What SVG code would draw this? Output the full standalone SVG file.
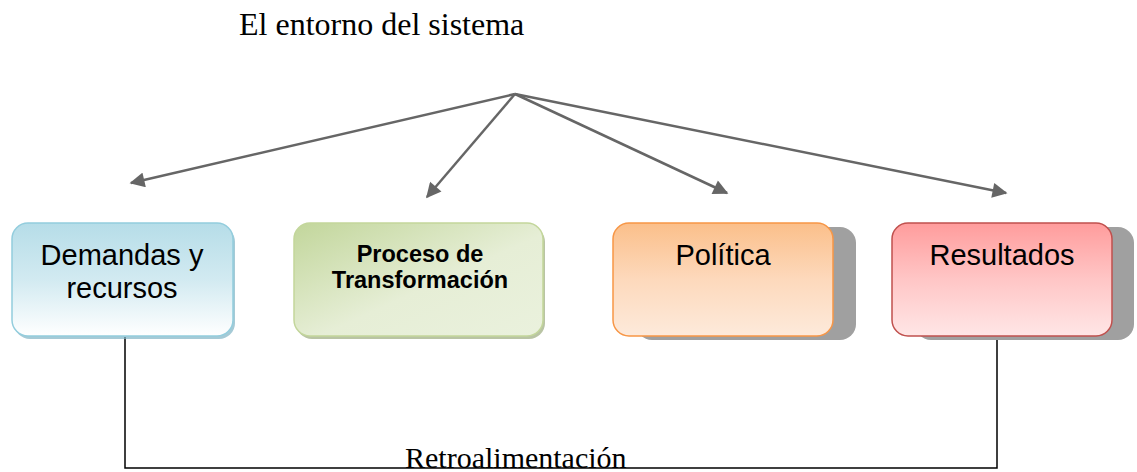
<svg xmlns="http://www.w3.org/2000/svg" width="1137" height="472" viewBox="0 0 1137 472">
<style>
.serif{font-family:"Liberation Serif","Times New Roman",serif;fill:#000}
.sans{font-family:"Liberation Sans",Arial,sans-serif;fill:#000;text-anchor:middle;font-size:29px}
.arr{stroke:#666;stroke-width:2.5;fill:none;marker-end:url(#ah)}
.fb{stroke:#000;stroke-width:1.5;fill:none}
</style>
<defs>
<marker id="ah" viewBox="0 0 10 10" refX="9" refY="5" markerWidth="6.5" markerHeight="6" markerUnits="strokeWidth" orient="auto">
<path d="M0,0 L10,5 L0,10 z" fill="#666"/>
</marker>
<linearGradient id="gBlue" x1="0" y1="0" x2="0" y2="1">
<stop offset="0" stop-color="#b6dde8"/><stop offset="0.5" stop-color="#d2eaf1"/><stop offset="1" stop-color="#ffffff"/>
</linearGradient>
<linearGradient id="gGreen" x1="0" y1="0" x2="1" y2="1">
<stop offset="0" stop-color="#c2d69b"/><stop offset="0.55" stop-color="#e6eed6"/><stop offset="1" stop-color="#eaf1dd"/>
</linearGradient>
<linearGradient id="gOrange" x1="0" y1="0" x2="0" y2="1">
<stop offset="0" stop-color="#fbbf8a"/><stop offset="0.5" stop-color="#fdd9bc"/><stop offset="1" stop-color="#fdeadb"/>
</linearGradient>
<linearGradient id="gRed" x1="0" y1="0" x2="0" y2="1">
<stop offset="0" stop-color="#ff9c9c"/><stop offset="0.5" stop-color="#ffc6c6"/><stop offset="1" stop-color="#ffe6e6"/>
</linearGradient>
</defs>
<rect width="1137" height="472" fill="#fff"/>
<text class="serif" x="239" y="35" font-size="32">El entorno del sistema</text>

<g id="connectors">
<line class="arr" x1="515" y1="94" x2="131" y2="183"/>
<line class="arr" x1="515" y1="94" x2="427" y2="197"/>
<line class="arr" x1="515" y1="94" x2="727" y2="193"/>
<line class="arr" x1="515" y1="94" x2="1006" y2="193"/>
<polyline class="fb" points="125,337 125,468 997,468 997,336"/>
</g>

<g id="node-demandas">
<rect x="14" y="226" width="221" height="113" rx="16" fill="#7fb3c4" opacity="0.7"/>
<rect x="12" y="223" width="221" height="113" rx="16" fill="url(#gBlue)" stroke="#93cddd" stroke-width="1.5"/>
<text class="sans" x="122" y="265">Demandas y</text>
<text class="sans" x="122" y="298">recursos</text>
</g>

<g id="node-proceso">
<rect x="296" y="226" width="249" height="113" rx="16" fill="#9bab7e" opacity="0.7"/>
<rect x="294" y="223" width="249" height="113" rx="16" fill="url(#gGreen)" stroke="#c3d69b" stroke-width="1.5"/>
<text class="sans" x="420" y="262" font-weight="bold" style="font-size:23.5px">Proceso de</text>
<text class="sans" x="420" y="288" font-weight="bold" style="font-size:23.5px">Transformación</text>
</g>

<g id="node-politica">
<rect x="636" y="227" width="220" height="113" rx="16" fill="#a0a0a0"/>
<rect x="613" y="223" width="220" height="113" rx="16" fill="url(#gOrange)" stroke="#f79646" stroke-width="1.5"/>
<text class="sans" x="723" y="265">Política</text>
</g>

<g id="node-resultados">
<rect x="915" y="227" width="219" height="113" rx="16" fill="#a0a0a0"/>
<rect x="892" y="223" width="220" height="113" rx="16" fill="url(#gRed)" stroke="#c0504d" stroke-width="1.5"/>
<text class="sans" x="1002" y="265">Resultados</text>
</g>

<text class="serif" x="405" y="468" font-size="30">Retroalimentación</text>
</svg>
